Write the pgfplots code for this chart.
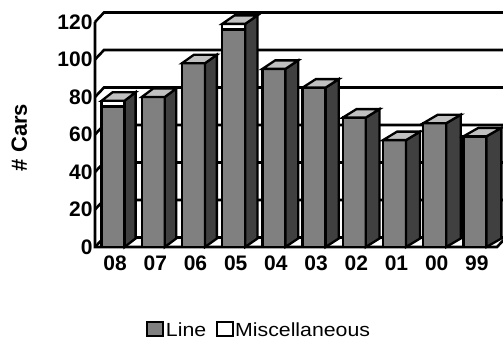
\documentclass[border=0pt]{standalone}
\usepackage{pgfplots}
\pgfplotsset{compat=1.18}
\usepackage{pgfplotstable}
\usepackage{fontspec}
\setmainfont{Liberation Sans}
\newfontfamily\legendfont{Liberation Sans}[FakeStretch=1.12]

\definecolor{facegray}{HTML}{808080}
\definecolor{sidegray}{HTML}{404040}
\definecolor{topgray}{HTML}{C0C0C0}

% cars per model year
\pgfplotstableread{
pos line misc
0   75   3
1   80   0
2   98   0
3   116  3
4   95   0
5   85   0
6   69   0
7   57   0
8   66   0
9   59   0
}\cars

% side face and top face of a column, the mark sits on the front top edge
\pgfdeclareplotmark{column3d}{%
  \pgfmathsetlengthmacro{\dpx}{(11+0.44*\colpos)*1bp}%
  \pgfmathsetlengthmacro{\hgt}{\coltot*1.875bp}%
  \pgfpathmoveto{\pgfpoint{9.5bp}{0bp}}%
  \pgfpathlineto{\pgfpoint{9.5bp+\dpx}{8.5bp}}%
  \pgfpathlineto{\pgfpoint{9.5bp+\dpx}{8.5bp-\hgt}}%
  \pgfpathlineto{\pgfpoint{9.5bp}{-\hgt}}%
  \pgfpathclose
  \pgfsetfillcolor{sidegray}%
  \pgfusepath{fill,stroke}%
  \pgfpathmoveto{\pgfpoint{-13.5bp}{0bp}}%
  \pgfpathlineto{\pgfpoint{9.5bp}{0bp}}%
  \pgfpathlineto{\pgfpoint{9.5bp+\dpx}{8.5bp}}%
  \pgfpathlineto{\pgfpoint{-13.5bp+\dpx}{8.5bp}}%
  \pgfpathclose
  \pgfsetfillcolor{topgray}%
  \pgfusepath{fill,stroke}%
}

\begin{document}
\begin{tikzpicture}
\begin{axis}[
  at={(95bp,95bp)}, anchor=south west,
  x=40.2bp, y=1.875bp,
  xmin=-0.5, xmax=9.5, ymin=0, ymax=120,
  clip=false,
  axis line style={draw=none},
  major tick length=0pt,
  xtick={0,...,9},
  xticklabels={08,07,06,05,04,03,02,01,00,99},
  ytick={0,20,40,60,80,100,120},
  /pgf/number format/assume math mode=true,
  tick label style={font=\bfseries\fontsize{21bp}{25bp}\selectfont},
  xticklabel style={yshift=-5bp},
  yticklabel style={xshift=1bp},
  ylabel={\# Cars},
  ylabel style={font=\bfseries\fontsize{22bp}{26bp}\selectfont,
    at={(axis description cs:-0.188,0.487)}, anchor=center},
  legend image code/.code={\draw[#1, line width=2bp] (0bp,-6bp) rectangle (16bp,8bp);},
  legend style={at={(axis description cs:0.408,-0.369)}, anchor=center,
    draw=none, fill=none, legend columns=2,
    font=\legendfont\fontsize{19bp}{22bp}\selectfont,
    /tikz/every even column/.append style={column sep=8bp},
    inner sep=0pt, nodes={inner sep=1.5bp}},
]
% back wall gridlines with the side wall diagonals
\pgfplotsinvokeforeach{0,20,40,60,80,100,120}{
  \draw[line width=2.6bp, line join=miter]
    (axis cs:-0.5,#1) -- ([shift={(9bp,9.5bp)}]axis cs:-0.5,#1)
    -- ([shift={(30bp,9.5bp)}]axis cs:9.5,#1);
}
% front value axis and floor edge
\draw[line width=2.6bp] (axis cs:-0.5,120) -- (axis cs:-0.5,0)
  -- (axis cs:9.5,0) -- ([shift={(9bp,9.5bp)}]axis cs:9.5,0);

% front faces: whole column (Miscellaneous on top), then the Line part
\addplot[ybar, bar width=23bp, bar shift=-2bp, fill=white, draw=black,
  line width=2.3bp, forget plot]
  table[x=pos, y expr=\thisrow{line}+\thisrow{misc}] {\cars};
\addplot[ybar, bar width=23bp, bar shift=-2bp, fill=facegray, draw=black,
  line width=2.3bp, forget plot]
  table[x=pos, y=line] {\cars};
% depth of each column
\addplot[only marks, mark=column3d, mark options={line width=2.3bp, draw=black},
  visualization depends on={\thisrow{pos} \as \colpos},
  visualization depends on={\thisrow{line}+\thisrow{misc} \as \coltot},
  forget plot]
  table[x=pos, y expr=\thisrow{line}+\thisrow{misc}] {\cars};

\addlegendimage{fill=facegray, draw=black}
\addlegendentry{Line}
\addlegendimage{fill=white, draw=black}
\addlegendentry{Miscellaneous}
\end{axis}
\pgfresetboundingbox
\path[use as bounding box] (0,0) rectangle (503bp,342bp);
\end{tikzpicture}
\end{document}
